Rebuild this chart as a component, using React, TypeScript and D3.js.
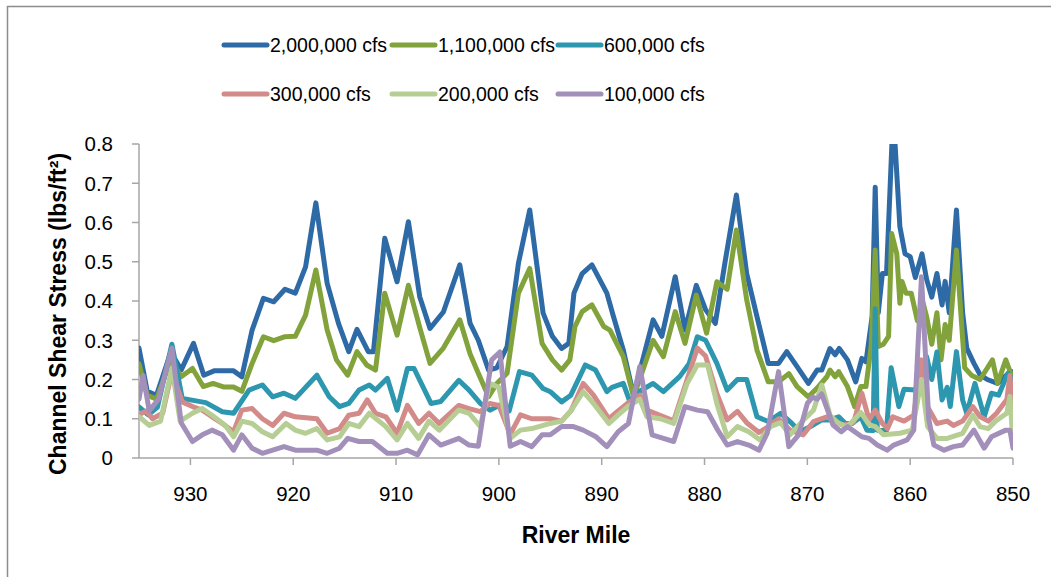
import React from 'react';
import * as d3 from 'd3';

// river mile vs channel shear stress, one list of [mile, value] per flow
const q2000k: [number, number][] = [
  [935.0, 0.28], [934.2, 0.17], [933.3, 0.16], [931.9, 0.27], [930.9, 0.224], [929.7, 0.292], [928.7, 0.211],
  [927.7, 0.222], [925.8, 0.222], [925.0, 0.207], [924.0, 0.326], [922.9, 0.407], [921.9, 0.398], [920.8, 0.43],
  [919.8, 0.42], [918.8, 0.487], [917.8, 0.65], [916.7, 0.445], [915.6, 0.343], [914.6, 0.271], [913.8, 0.328],
  [912.7, 0.271], [912.2, 0.271], [911.1, 0.56], [909.9, 0.449], [908.8, 0.602], [907.7, 0.411], [906.7, 0.33],
  [905.4, 0.372], [903.8, 0.492], [902.8, 0.343], [902.0, 0.3], [901.0, 0.224], [900.2, 0.23], [899.2, 0.284],
  [898.1, 0.496], [897.0, 0.632], [895.7, 0.369], [894.8, 0.31], [893.9, 0.279], [893.2, 0.292], [892.7, 0.42],
  [891.9, 0.47], [890.95, 0.492], [889.5, 0.42], [888.85, 0.36], [887.9, 0.275], [886.9, 0.16], [885.0, 0.352],
  [884.15, 0.31], [882.85, 0.462], [881.9, 0.326], [880.8, 0.44], [879.9, 0.378], [878.95, 0.343], [878.0, 0.5],
  [876.9, 0.67], [875.9, 0.47], [874.9, 0.36], [873.8, 0.241], [872.8, 0.241], [872.0, 0.271], [871.0, 0.233],
  [869.9, 0.19], [869.05, 0.224], [868.6, 0.224], [867.8, 0.279], [867.3, 0.263], [866.9, 0.279], [866.1, 0.25],
  [865.3, 0.194], [864.7, 0.254], [864.3, 0.245], [863.7, 0.36], [863.4, 0.69], [863.1, 0.37], [862.7, 0.47],
  [862.3, 0.47], [861.65, 0.88], [861.0, 0.589], [860.5, 0.52], [860.0, 0.513], [859.5, 0.46], [858.85, 0.52],
  [858.4, 0.455], [857.9, 0.41], [857.4, 0.47], [856.9, 0.39], [856.6, 0.45], [856.2, 0.37], [855.5, 0.632],
  [854.9, 0.37], [854.5, 0.28], [853.8, 0.241], [853.2, 0.212], [852.5, 0.2], [851.5, 0.19], [850.7, 0.21],
  [850.0, 0.22],
];

const q1100k: [number, number][] = [
  [935.0, 0.24], [934.2, 0.16], [933.3, 0.15], [931.9, 0.25], [930.9, 0.207], [929.8, 0.228], [928.75, 0.182],
  [927.8, 0.19], [926.8, 0.181], [925.8, 0.181], [925.0, 0.17], [924.0, 0.241], [922.9, 0.309], [921.9, 0.299],
  [920.8, 0.309], [919.8, 0.31], [918.8, 0.364], [917.8, 0.479], [916.7, 0.326], [915.8, 0.25], [914.7, 0.211],
  [913.8, 0.271], [912.85, 0.237], [912.0, 0.224], [911.1, 0.42], [909.9, 0.313], [908.8, 0.44], [907.7, 0.333],
  [906.7, 0.241], [905.4, 0.28], [903.8, 0.352], [902.8, 0.265], [902.0, 0.216], [901.0, 0.156], [900.2, 0.19],
  [899.2, 0.216], [898.1, 0.42], [897.0, 0.483], [895.8, 0.292], [894.8, 0.25], [893.9, 0.224], [893.1, 0.25],
  [892.6, 0.335], [891.9, 0.373], [890.95, 0.39], [889.8, 0.335], [889.2, 0.326], [887.9, 0.258], [886.9, 0.156],
  [886.1, 0.216], [885.0, 0.3], [884.0, 0.258], [882.85, 0.373], [881.9, 0.292], [880.8, 0.415], [879.8, 0.318],
  [878.8, 0.449], [877.8, 0.43], [876.9, 0.581], [875.9, 0.403], [874.9, 0.275], [873.8, 0.194], [872.8, 0.194],
  [871.8, 0.215], [871.0, 0.182], [869.9, 0.156], [869.05, 0.178], [868.1, 0.207], [867.8, 0.224], [867.3, 0.207],
  [866.95, 0.22], [866.1, 0.182], [865.4, 0.131], [864.8, 0.182], [864.3, 0.182], [863.8, 0.284], [863.4, 0.53],
  [863.1, 0.284], [862.6, 0.29], [862.1, 0.31], [861.8, 0.572], [861.3, 0.52], [861.0, 0.394], [860.8, 0.45],
  [860.4, 0.42], [859.9, 0.42], [859.3, 0.35], [858.8, 0.4], [858.4, 0.36], [857.9, 0.29], [857.4, 0.37],
  [857.0, 0.25], [856.6, 0.34], [856.2, 0.3], [855.5, 0.53], [854.7, 0.23], [854.0, 0.21], [853.2, 0.2],
  [852.0, 0.25], [851.5, 0.19], [850.7, 0.25], [850.0, 0.2],
];

const q600k: [number, number][] = [
  [935.0, 0.13], [934.1, 0.11], [933.2, 0.13], [931.8, 0.29], [930.8, 0.152], [928.5, 0.141], [926.9, 0.118],
  [925.8, 0.114], [924.3, 0.173], [923.0, 0.186], [922.0, 0.156], [920.9, 0.165], [919.8, 0.152], [917.7, 0.211],
  [916.5, 0.156], [915.5, 0.131], [914.6, 0.139], [913.6, 0.173], [912.6, 0.186], [912.0, 0.173], [910.85, 0.203],
  [909.9, 0.122], [908.9, 0.228], [908.25, 0.228], [906.6, 0.139], [905.65, 0.144], [903.9, 0.198], [902.9, 0.173],
  [901.8, 0.139], [900.85, 0.122], [899.9, 0.135], [899.0, 0.12], [898.0, 0.22], [896.8, 0.211], [895.7, 0.177],
  [895.0, 0.169], [893.9, 0.143], [893.0, 0.16], [891.6, 0.237], [890.6, 0.224], [889.5, 0.169], [889.0, 0.18],
  [887.9, 0.19], [887.2, 0.139], [886.3, 0.17], [885.0, 0.19], [884.0, 0.169], [882.4, 0.208], [881.5, 0.24],
  [880.7, 0.309], [879.9, 0.3], [878.8, 0.241], [877.8, 0.173], [876.8, 0.2], [875.9, 0.2], [874.9, 0.105],
  [873.8, 0.093], [872.6, 0.114], [871.5, 0.088], [870.7, 0.067], [869.7, 0.08], [868.6, 0.097], [867.8, 0.097],
  [866.95, 0.105], [866.3, 0.088], [865.65, 0.088], [864.8, 0.105], [864.2, 0.071], [863.6, 0.07], [863.4, 0.38],
  [863.2, 0.071], [862.3, 0.07], [861.85, 0.23], [861.1, 0.131], [860.6, 0.175], [859.5, 0.173], [858.4, 0.258],
  [857.9, 0.2], [857.4, 0.27], [856.9, 0.148], [856.4, 0.18], [856.1, 0.131], [855.5, 0.271], [854.9, 0.148],
  [854.5, 0.114], [853.7, 0.19], [852.8, 0.105], [852.1, 0.165], [851.4, 0.16], [850.5, 0.216], [850.0, 0.2],
];

const q300k: [number, number][] = [
  [935.0, 0.11], [934.3, 0.12], [933.7, 0.1], [932.7, 0.114], [931.8, 0.22], [930.8, 0.143], [929.8, 0.131],
  [928.85, 0.122], [927.9, 0.105], [926.9, 0.088], [925.8, 0.067], [925.0, 0.122], [924.0, 0.126], [923.0, 0.1],
  [922.0, 0.083], [920.9, 0.114], [919.8, 0.105], [917.7, 0.1], [916.7, 0.063], [915.5, 0.075], [914.6, 0.109],
  [913.6, 0.114], [912.8, 0.148], [912.0, 0.114], [911.0, 0.105], [909.9, 0.063], [908.9, 0.134], [907.8, 0.088],
  [906.8, 0.114], [905.8, 0.088], [903.9, 0.134], [902.9, 0.126], [901.8, 0.118], [900.9, 0.139], [900.0, 0.134],
  [898.9, 0.06], [897.9, 0.11], [896.8, 0.1], [895.0, 0.1], [893.9, 0.094], [893.0, 0.12], [891.8, 0.19],
  [890.8, 0.16], [889.3, 0.1], [888.4, 0.12], [887.5, 0.139], [886.3, 0.16], [885.6, 0.122], [883.0, 0.095],
  [881.7, 0.199], [880.7, 0.28], [879.9, 0.26], [878.8, 0.164], [877.8, 0.097], [876.8, 0.119], [875.9, 0.09],
  [874.7, 0.065], [873.8, 0.08], [872.8, 0.1], [871.7, 0.071], [870.4, 0.059], [869.4, 0.093], [868.1, 0.105],
  [866.5, 0.083], [865.5, 0.09], [864.7, 0.165], [864.0, 0.097], [863.4, 0.122], [862.7, 0.088], [862.2, 0.075],
  [861.7, 0.105], [860.6, 0.094], [859.65, 0.109], [858.9, 0.25], [858.3, 0.13], [857.4, 0.088], [856.4, 0.094],
  [855.8, 0.083], [854.9, 0.094], [853.9, 0.131], [853.2, 0.105], [852.4, 0.094], [851.6, 0.114], [850.6, 0.149],
  [850.3, 0.21], [850.0, 0.1],
];

const q200k: [number, number][] = [
  [935.0, 0.105], [934.0, 0.083], [932.9, 0.094], [931.8, 0.23], [931.0, 0.094], [929.8, 0.114], [928.85, 0.126],
  [927.9, 0.109], [926.6, 0.083], [925.8, 0.054], [925.0, 0.094], [924.0, 0.088], [923.0, 0.067], [922.0, 0.054],
  [920.7, 0.088], [919.8, 0.071], [918.8, 0.063], [917.7, 0.075], [916.7, 0.046], [915.5, 0.054], [914.6, 0.088],
  [913.6, 0.08], [912.6, 0.114], [911.0, 0.08], [909.9, 0.046], [908.9, 0.088], [907.8, 0.05], [906.8, 0.094],
  [905.8, 0.071], [903.9, 0.122], [902.9, 0.114], [901.8, 0.08], [900.9, 0.19], [900.0, 0.18], [898.9, 0.05],
  [897.9, 0.071], [896.8, 0.075], [895.0, 0.088], [893.9, 0.094], [893.0, 0.12], [891.8, 0.169], [890.8, 0.139],
  [889.3, 0.088], [888.4, 0.11], [887.5, 0.13], [886.3, 0.15], [885.6, 0.105], [884.3, 0.1], [883.0, 0.088],
  [881.7, 0.19], [880.7, 0.237], [879.7, 0.237], [878.8, 0.139], [877.8, 0.054], [876.8, 0.08], [875.7, 0.067],
  [874.6, 0.046], [873.6, 0.08], [872.6, 0.09], [871.7, 0.059], [870.4, 0.096], [869.4, 0.122], [868.6, 0.186],
  [867.8, 0.109], [866.95, 0.088], [866.1, 0.08], [865.5, 0.096], [864.8, 0.116], [864.0, 0.085], [863.4, 0.08],
  [862.6, 0.059], [861.0, 0.063], [859.8, 0.071], [858.9, 0.2], [858.3, 0.08], [857.4, 0.05], [856.4, 0.05],
  [855.8, 0.055], [854.9, 0.063], [853.9, 0.109], [853.2, 0.08], [852.4, 0.075], [851.6, 0.096], [850.6, 0.114],
  [850.3, 0.157], [850.0, 0.04],
];

const q100k: [number, number][] = [
  [935.0, 0.15], [934.6, 0.21], [934.0, 0.12], [933.1, 0.15], [931.8, 0.28], [930.9, 0.09], [929.8, 0.042],
  [928.85, 0.059], [927.9, 0.071], [926.9, 0.059], [925.8, 0.02], [925.0, 0.059], [924.0, 0.025], [923.0, 0.012],
  [922.0, 0.02], [920.9, 0.029], [919.8, 0.02], [917.7, 0.02], [916.7, 0.012], [915.5, 0.025], [914.7, 0.05],
  [913.6, 0.042], [912.3, 0.042], [910.85, 0.012], [909.9, 0.012], [908.9, 0.02], [907.9, 0.008], [906.8, 0.059],
  [905.65, 0.033], [903.9, 0.05], [902.9, 0.033], [902.0, 0.03], [900.7, 0.25], [899.9, 0.27], [898.9, 0.03],
  [897.9, 0.042], [896.8, 0.029], [895.8, 0.059], [895.0, 0.059], [893.9, 0.08], [892.75, 0.08], [891.8, 0.071],
  [890.6, 0.055], [889.5, 0.029], [888.4, 0.067], [887.4, 0.088], [886.3, 0.233], [885.1, 0.059], [884.0, 0.05],
  [883.0, 0.042], [881.9, 0.131], [880.7, 0.122], [879.7, 0.118], [878.8, 0.075], [877.8, 0.033], [876.8, 0.042],
  [875.7, 0.033], [874.7, 0.02], [873.9, 0.063], [872.8, 0.22], [871.8, 0.029], [870.85, 0.059], [870.0, 0.139],
  [869.5, 0.155], [869.05, 0.15], [868.6, 0.163], [867.5, 0.084], [866.7, 0.067], [866.1, 0.08], [864.7, 0.054],
  [864.0, 0.05], [863.2, 0.033], [862.25, 0.02], [861.6, 0.033], [860.3, 0.046], [859.65, 0.071], [858.9, 0.462],
  [858.2, 0.1], [857.7, 0.033], [856.7, 0.02], [855.8, 0.029], [854.9, 0.033], [853.8, 0.071], [852.8, 0.025],
  [852.1, 0.054], [850.7, 0.071], [850.3, 0.071], [850.0, 0.025],
];

const seriesNames = ['2,000,000 cfs', '1,100,000 cfs', '600,000 cfs', '300,000 cfs', '200,000 cfs', '100,000 cfs'];
const seriesData = [q2000k, q1100k, q600k, q300k, q200k, q100k];
const colors = ['#2E6AA6', '#82A23C', '#2C97AE', '#D28B89', '#B6CD93', '#A290BB'];
const xTicks = [930, 920, 910, 900, 890, 880, 870, 860, 850];
const yTicks = [0, 0.1, 0.2, 0.3, 0.4, 0.5, 0.6, 0.7, 0.8];

const W = 1051;
const H = 577;
const font = "'Liberation Sans', Arial, sans-serif";
const axisColor = '#A6A6A6';

export default function App() {
  const x = d3.scaleLinear().domain([935, 850]).range([139, 1013]);
  const y = d3.scaleLinear().domain([0, 0.8]).range([458, 144]);
  const line = d3.line<[number, number]>().x(d => x(d[0])).y(d => y(d[1]));

  const legendCols = [224, 392, 558];
  const legendRows = [45, 94];

  return (
    <svg width={W} height={H} style={{ position: 'absolute', left: 0, top: 0, background: '#fff' }} fontFamily={font}>
      <rect x={7.5} y={6.5} width={1100} height={700} fill="none" stroke="#8C8C8C" strokeWidth={1.5} />
      <defs>
        <clipPath id="plot">
          <rect x={139} y={144} width={874} height={316} />
        </clipPath>
      </defs>

      {/* axes */}
      <line x1={139} x2={139} y1={144} y2={458} stroke={axisColor} strokeWidth={1.5} />
      <line x1={139} x2={1013} y1={458} y2={458} stroke={axisColor} strokeWidth={1.5} />
      {yTicks.map(t => (
        <g key={t}>
          <line x1={132} x2={139} y1={y(t)} y2={y(t)} stroke={axisColor} strokeWidth={1.5} />
          <text x={113} y={y(t)} dy="0.36em" textAnchor="end" fontSize={20.5} fill="#000">{t === 0 ? '0' : t.toFixed(1)}</text>
        </g>
      ))}
      {xTicks.map(t => (
        <g key={t}>
          <line x1={x(t)} x2={x(t)} y1={458} y2={465} stroke={axisColor} strokeWidth={1.5} />
          <text x={x(t)} y={501} textAnchor="middle" fontSize={20.5} fill="#000">{t}</text>
        </g>
      ))}

      <text x={576} y={543} textAnchor="middle" fontSize={23} fontWeight="bold" fill="#000">River Mile</text>
      <text transform="translate(66,314) rotate(-90)" textAnchor="middle" fontSize={23} fontWeight="bold" fill="#000">
        Channel Shear Stress (lbs/ft²)
      </text>

      {/* series */}
      <g clipPath="url(#plot)">
        {seriesData.map((d, i) => (
          <path key={i} d={line(d) || ''} fill="none" stroke={colors[i]} strokeWidth={5}
            strokeLinejoin="round" strokeLinecap="round" />
        ))}
      </g>

      {/* legend */}
      {seriesNames.map((name, i) => {
        const lx = legendCols[i % 3];
        const ly = legendRows[Math.floor(i / 3)];
        return (
          <g key={name}>
            <line x1={lx} x2={lx + 43} y1={ly} y2={ly} stroke={colors[i]} strokeWidth={5} strokeLinecap="round" />
            <text x={lx + 46} y={ly} dy="0.35em" fontSize={19.5} fill="#000">{name}</text>
          </g>
        );
      })}
    </svg>
  );
}
